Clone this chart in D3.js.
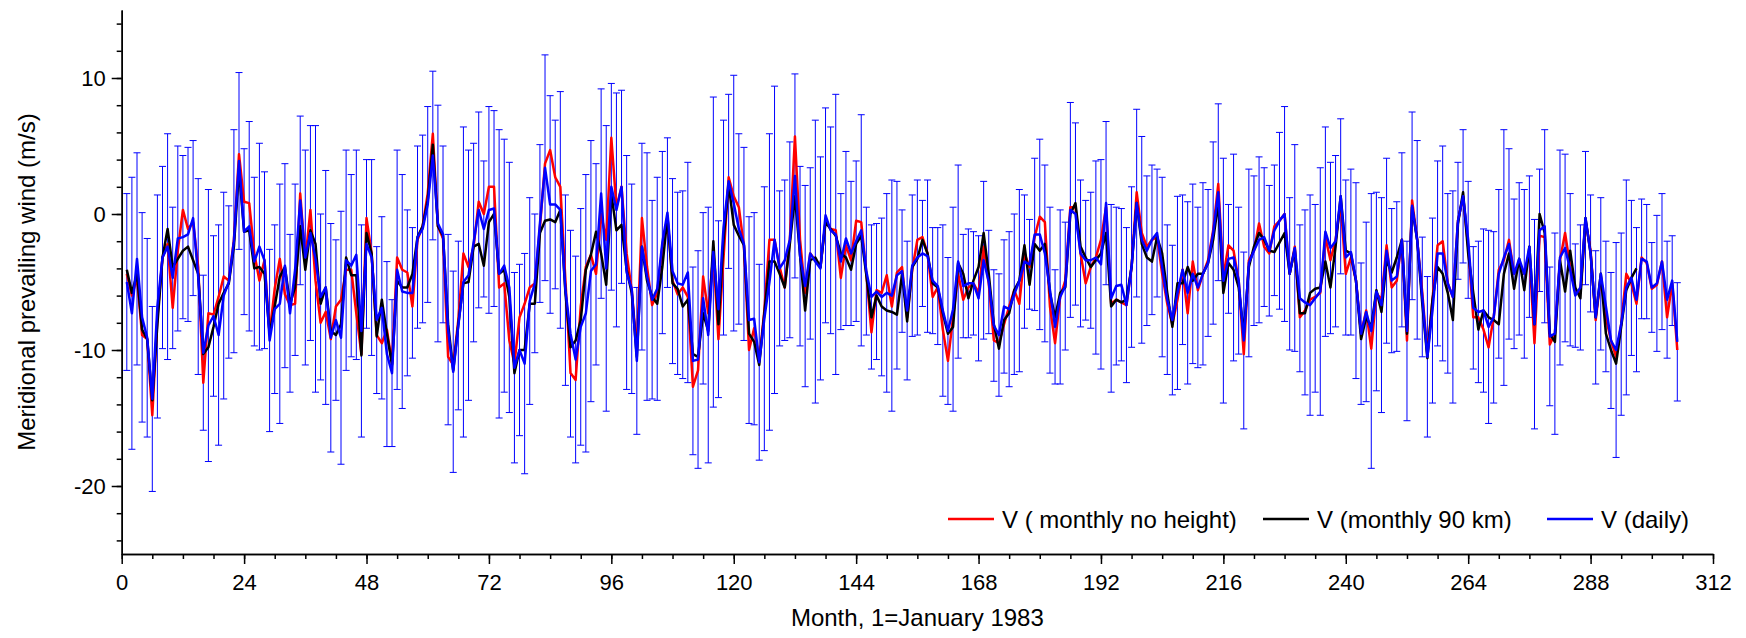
<!DOCTYPE html>
<html>
<head>
<meta charset="utf-8">
<script src="https://cdn.jsdelivr.net/npm/d3@7"></script>
<style>
  html, body { margin: 0; padding: 0; background: #fff; }
  svg { display: block; font-family: "Liberation Sans", Arial, sans-serif; }
</style>
</head>
<body>
<svg id="chart" width="1746" height="638"></svg>
<script>
// Meridional prevailing wind, monthly series starting January 1983 (month 1)

// V (daily) — monthly means of daily values, m/s
const vDaily = [
  -5.0, -7.3, -3.3, -7.6, -9.1, -13.6, -6.8, -3.2, -2.4, -4.7,
  -1.8, -1.7, -1.5, -0.3, -4.6, -10.2, -8.2, -7.5, -8.9, -6.0,
  -5.0, -2.0, 3.9, -1.3, -0.9, -3.5, -2.4, -3.4, -9.3, -7.0,
  -6.6, -3.8, -7.3, -4.1, 1.0, -3.2, -1.4, -3.3, -6.1, -5.4,
  -9.1, -7.8, -9.1, -3.4, -3.8, -3.0, -8.6, -2.2, -3.2, -7.8,
  -6.9, -10.3, -11.7, -4.1, -5.7, -5.8, -5.8, -1.7, -1.1, 0.7,
  4.3, -0.7, -1.5, -8.5, -11.6, -8.2, -5.0, -4.5, -2.1, 0.3,
  -1.1, 0.3, 0.4, -4.4, -3.8, -5.4, -11.3, -10.0, -11.0, -6.4,
  -5.1, -0.7, 3.4, 0.7, 0.7, 0.3, -5.6, -8.8, -10.7, -8.3,
  -7.3, -4.2, -3.7, 1.5, -4.0, 2.0, 0.3, 2.0, -4.3, -5.5,
  -10.8, -2.4, -4.6, -6.3, -5.5, -2.1, 0.1, -4.2, -5.1, -5.2,
  -4.3, -10.8, -10.7, -6.2, -8.9, -2.8, -7.0, -1.0, 2.4, 0.8,
  -1.1, -2.2, -7.8, -7.7, -10.9, -7.7, -5.0, -1.9, -4.0, -3.4,
  -1.9, 2.8, -3.1, -5.3, -2.9, -3.5, -4.0, -0.1, -1.2, -1.5,
  -3.5, -1.8, -2.9, -2.0, -1.2, -4.2, -6.1, -5.7, -6.1, -5.8,
  -6.0, -4.5, -4.2, -7.1, -3.8, -3.2, -2.9, -3.1, -4.9, -5.3,
  -7.1, -8.6, -7.0, -3.5, -5.3, -5.1, -5.1, -6.2, -3.4, -5.0,
  -8.2, -8.9, -6.8, -7.0, -5.9, -4.9, -3.5, -3.7, -1.5, -1.5,
  -2.9, -5.6, -8.3, -6.1, -5.3, 0.3, 0.0, -2.9, -3.4, -3.4,
  -3.2, -3.7, 0.8, -6.2, -5.3, -5.2, -6.7, -3.9, 0.8, -1.9,
  -2.7, -1.9, -1.4, -3.9, -6.3, -7.8, -5.8, -4.1, -5.8, -4.4,
  -5.4, -4.4, -3.6, -1.4, 1.6, -4.9, -3.3, -3.2, -4.9, -9.3,
  -3.6, -2.7, -1.9, -1.7, -2.7, -1.2, -0.5, 0.0, -4.4, -2.5,
  -6.2, -6.5, -6.7, -6.2, -5.7, -1.3, -2.5, -2.0, 1.3, -3.2,
  -2.8, -4.9, -8.8, -7.2, -8.6, -5.7, -6.7, -2.7, -4.9, -4.6,
  -1.9, -8.6, 0.6, -1.9, -6.1, -10.5, -7.1, -2.9, -2.9, -5.1,
  -6.1, -0.5, 1.3, -1.9, -6.9, -7.2, -7.1, -8.3, -7.6, -4.4,
  -3.2, -2.2, -4.4, -3.3, -4.4, -2.4, -8.1, -1.2, -0.9, -9.0,
  -8.8, -3.2, -2.5, -4.1, -6.0, -5.4, -0.3, -2.9, -7.6, -4.4,
  -6.8, -9.3, -10.0, -8.1, -5.4, -4.7, -6.3, -3.3, -3.5, -5.4,
  -5.1, -3.5, -6.3, -4.9, -9.4
];

// Standard deviation of the daily values (error bar half-length), m/s
const vDailySd = [
  6.5, 10.0, 7.8, 7.7, 7.3, 6.8, 8.2, 6.7, 8.3, 5.2,
  6.8, 6.0, 6.4, 5.7, 7.2, 5.7, 10.0, 5.9, 8.1, 7.6,
  5.6, 8.2, 6.5, 6.1, 7.7, 6.2, 7.6, 6.5, 6.7, 6.2,
  8.8, 7.5, 5.8, 6.3, 6.2, 7.9, 7.9, 9.8, 6.1, 8.6,
  8.4, 5.9, 9.3, 8.1, 6.7, 7.7, 7.8, 6.2, 7.2, 5.4,
  6.7, 6.8, 5.4, 8.8, 8.6, 6.1, 4.8, 6.7, 6.9, 7.2,
  6.2, 8.7, 6.5, 7.0, 7.4, 6.2, 11.4, 9.2, 7.3, 7.2,
  5.0, 7.6, 7.2, 10.6, 9.3, 9.2, 7.0, 6.3, 8.1, 7.6,
  5.1, 5.8, 8.3, 8.0, 6.2, 8.7, 7.0, 7.6, 7.6, 8.7,
  10.2, 9.6, 7.4, 7.7, 10.5, 7.6, 8.6, 7.1, 8.6, 7.7,
  5.4, 7.6, 9.1, 7.3, 8.2, 6.7, 5.5, 6.8, 6.7, 6.9,
  8.1, 6.9, 8.0, 6.3, 9.4, 11.4, 6.5, 7.9, 6.4, 9.4,
  7.0, 7.1, 7.6, 7.8, 7.2, 9.7, 10.9, 11.3, 5.7, 5.9,
  7.2, 7.5, 6.6, 7.4, 6.3, 10.4, 8.2, 7.9, 7.6, 10.3,
  5.0, 6.4, 5.3, 5.9, 8.5, 4.7, 5.3, 5.0, 5.8, 7.3,
  8.5, 6.9, 4.5, 5.1, 5.2, 5.7, 3.9, 5.6, 3.9, 4.3,
  6.3, 5.4, 7.5, 7.1, 3.8, 4.0, 3.8, 4.6, 5.8, 3.8,
  4.1, 4.5, 4.9, 5.7, 5.9, 6.7, 4.9, 3.3, 5.6, 7.0,
  6.5, 6.1, 4.2, 6.4, 4.7, 7.9, 6.7, 5.4, 4.4, 5.0,
  7.1, 7.7, 6.0, 6.9, 5.8, 5.6, 5.7, 5.9, 6.9, 7.6,
  5.5, 5.5, 4.7, 6.6, 5.5, 5.5, 7.1, 5.5, 6.7, 6.6,
  5.9, 6.7, 5.4, 6.7, 6.5, 9.0, 4.0, 7.6, 5.4, 6.5,
  6.9, 5.5, 6.1, 5.1, 4.8, 4.8, 6.5, 7.9, 5.6, 7.6,
  5.4, 6.8, 8.1, 6.9, 9.1, 7.7, 6.3, 6.3, 5.7, 5.7,
  6.1, 7.2, 5.2, 6.6, 10.1, 7.3, 7.9, 6.8, 5.3, 5.5,
  6.4, 6.6, 6.9, 7.3, 4.4, 5.9, 6.8, 6.8, 7.9, 6.6,
  7.8, 4.3, 4.9, 4.3, 4.5, 5.2, 6.0, 7.1, 6.3, 6.2,
  9.4, 7.0, 5.5, 5.6, 6.2, 5.2, 7.7, 4.5, 7.1, 5.1,
  7.4, 7.9, 6.9, 5.6, 3.8, 4.6, 4.9, 4.3, 4.9, 5.6,
  4.8, 5.0, 7.9, 6.7, 7.9, 5.7, 5.3, 4.4, 4.2, 3.3,
  5.0, 5.0, 4.3, 3.3, 4.35
];

// V (monthly, no height assignment), m/s
const vMonthlyNoHeight = [
  -4.4, -6.0, -4.7, -8.9, -9.2, -14.8, -7.6, -3.2, -2.2, -6.9,
  -2.7, 0.3, -1.1, -0.6, -3.9, -12.4, -7.3, -7.4, -6.1, -4.6,
  -4.9, -1.9, 4.4, 0.9, 0.8, -2.9, -4.9, -3.4, -8.8, -5.5,
  -3.3, -5.9, -6.7, -6.6, 1.5, -3.4, 0.3, -4.9, -8.0, -7.2,
  -9.2, -6.8, -6.3, -4.1, -4.1, -7.3, -10.3, -0.3, -2.9, -8.9,
  -9.5, -8.5, -11.0, -3.2, -4.1, -4.3, -6.8, -1.9, -0.9, 1.5,
  5.9, -0.9, -1.8, -10.5, -11.1, -7.8, -2.9, -3.9, -2.4, 0.9,
  0.0, 2.0, 2.0, -5.4, -5.1, -9.3, -11.0, -7.6, -6.6, -5.4,
  -5.1, -1.0, 3.7, 4.7, 2.7, 2.0, -4.9, -11.7, -12.2, -6.8,
  -3.9, -3.0, -4.4, 0.0, -1.9, 5.6, 0.5, 2.0, -2.9, -5.6,
  -10.0, -0.3, -3.9, -6.7, -5.8, -2.4, -0.2, -4.9, -5.9, -5.4,
  -6.1, -12.7, -11.5, -4.6, -7.3, -2.9, -9.2, -3.2, 2.7, 1.3,
  0.5, -2.4, -10.0, -8.4, -10.8, -7.1, -1.9, -1.9, -3.9, -5.4,
  -1.9, 5.7, -1.9, -5.8, -2.9, -3.4, -3.9, -0.5, -1.1, -1.2,
  -4.7, -2.3, -3.4, -0.5, -0.6, -4.4, -8.7, -5.6, -5.8, -4.5,
  -6.8, -4.3, -3.9, -7.6, -4.1, -1.9, -1.7, -2.9, -6.1, -5.4,
  -8.5, -10.8, -7.6, -4.4, -6.3, -5.4, -5.1, -5.8, -2.4, -5.1,
  -9.3, -9.5, -8.1, -6.8, -5.6, -6.6, -2.9, -3.9, -1.7, -0.2,
  -0.6, -6.8, -9.5, -6.1, -4.9, 0.5, 0.5, -2.9, -5.1, -3.9,
  -3.2, -1.9, 0.5, -6.6, -6.3, -6.5, -6.7, -3.9, 1.6, -1.4,
  -2.4, -1.9, -1.7, -4.4, -6.6, -8.1, -6.3, -4.1, -7.3, -3.5,
  -5.6, -4.4, -3.4, -1.2, 2.2, -4.6, -2.3, -2.7, -4.9, -10.3,
  -3.4, -2.7, -0.7, -2.4, -2.9, -0.9, -0.5, 0.0, -4.4, -2.4,
  -7.6, -7.1, -6.3, -6.1, -5.8, -1.7, -3.4, -1.9, 0.8, -4.4,
  -3.2, -4.9, -8.8, -7.1, -9.9, -5.8, -6.3, -2.3, -5.4, -4.9,
  -1.9, -9.3, 1.0, -1.9, -5.8, -10.3, -6.3, -2.3, -2.0, -5.1,
  -6.1, -0.5, 1.3, -2.4, -7.6, -7.6, -8.5, -9.8, -7.6, -4.1,
  -3.4, -1.9, -4.4, -3.6, -4.4, -2.9, -9.5, -1.6, -1.7, -9.6,
  -8.8, -3.4, -1.4, -3.9, -5.7, -5.8, -0.5, -2.7, -7.8, -4.6,
  -7.6, -9.3, -10.5, -8.1, -4.4, -5.1, -6.6, -3.2, -3.6, -5.5,
  -5.2, -3.5, -7.6, -5.1, -10.0
];

// V (monthly, 90 km), m/s — ends earlier than the other two series
const vMonthly90km = [
  -4.1, -5.8, -4.4, -8.5, -9.2, -13.7, -8.1, -3.2, -1.1, -3.9,
  -3.3, -2.7, -2.4, -3.4, -4.4, -10.3, -9.8, -8.3, -6.6, -5.8,
  -5.1, -2.4, 3.3, -1.3, -1.2, -4.0, -3.9, -4.4, -8.8, -6.8,
  -4.6, -3.9, -6.6, -5.4, -0.9, -4.1, -1.2, -2.2, -6.6, -5.4,
  -8.6, -8.9, -8.1, -3.2, -4.5, -4.5, -10.4, -1.4, -2.9, -9.0,
  -6.3, -8.8, -11.1, -4.9, -5.4, -5.4, -4.4, -1.7, -0.9, 1.0,
  5.1, -0.9, -1.6, -8.1, -11.5, -8.1, -5.1, -5.0, -2.4, -2.2,
  -3.8, -0.6, 0.0, -4.4, -4.1, -6.1, -11.7, -10.0, -10.0, -6.6,
  -6.6, -1.4, -0.5, -0.4, -0.6, 0.3, -5.8, -9.8, -9.3, -7.8,
  -4.1, -3.0, -1.3, -2.9, -5.2, 1.5, -1.2, -0.8, -4.1, -5.8,
  -10.5, -2.4, -4.9, -6.1, -6.6, -3.9, -0.2, -5.1, -5.5, -6.8,
  -6.3, -10.3, -10.5, -7.3, -8.6, -2.0, -8.1, -1.9, 2.2, -0.8,
  -1.6, -2.3, -8.8, -9.4, -11.1, -7.3, -3.5, -3.5, -4.4, -5.4,
  -2.2, 1.3, -3.0, -7.1, -3.4, -3.2, -3.9, -0.6, -1.1, -1.6,
  -2.9, -3.2, -4.1, -2.2, -1.6, -4.5, -7.6, -6.0, -6.8, -7.1,
  -7.2, -7.4, -4.4, -7.9, -3.9, -3.3, -1.9, -2.9, -5.1, -5.4,
  -7.3, -8.8, -8.3, -3.6, -4.4, -6.2, -4.9, -3.9, -1.4, -4.4,
  -8.1, -9.9, -7.8, -7.3, -5.6, -4.9, -2.3, -5.2, -2.2, -2.7,
  -2.2, -5.8, -7.6, -5.8, -5.4, 0.0, 0.8, -2.4, -3.2, -3.9,
  -3.4, -2.9, -1.4, -6.8, -6.3, -6.5, -6.3, -3.9, 0.8, -2.2,
  -3.2, -3.5, -1.7, -2.9, -5.8, -8.3, -5.1, -5.1, -3.9, -4.9,
  -4.4, -4.4, -3.6, -1.9, 0.8, -5.8, -3.6, -4.1, -5.4, -8.8,
  -3.9, -2.4, -1.4, -1.9, -2.7, -2.8, -2.1, -1.4, -4.4, -2.6,
  -7.3, -7.3, -5.8, -5.5, -5.4, -3.5, -5.4, -2.4, 1.3, -2.7,
  -2.9, -4.9, -9.2, -7.6, -8.3, -5.6, -7.2, -3.4, -4.3, -3.2,
  -1.9, -8.8, 0.5, -1.9, -6.6, -10.6, -6.3, -3.9, -4.4, -5.8,
  -7.8, -0.7, 1.6, -2.9, -5.8, -8.5, -7.1, -7.6, -7.8, -8.1,
  -4.4, -2.9, -5.5, -3.3, -5.6, -2.4, -8.1, 0.0, -1.4, -8.8,
  -9.4, -3.4, -5.7, -2.7, -5.4, -6.2, -0.3, -2.9, -7.6, -4.4,
  -8.8, -10.0, -11.0, -8.3, -5.6, -4.7, -4.0
];

// Axis ticks and labels
const xMajorTicks = [0, 24, 48, 72, 96, 120, 144, 168, 192, 216, 240, 264, 288, 312];
const xMinorTicks = d3.range(0, 313, 6);
const yMajorTicks = [-20, -10, 0, 10];
const yMinorTicks = d3.range(-24, 15, 2);
const xTitle = "Month, 1=January 1983";
const yTitle = "Meridional prevailing wind (m/s)";

const seriesNames = ["V ( monthly no height)", "V (monthly 90 km)", "V (daily)"];
const seriesColors = ["#ff0000", "#000000", "#0000ff"];

// ---------------------------------------------------------------
const svg = d3.select("#chart");
const plot = { left: 121.7, right: 1713, top: 10, bottom: 554 };

const x = d3.scaleLinear().domain([0, 312]).range([plot.left, plot.right]);
const y = d3.scaleLinear().domain([-25, 15]).range([plot.bottom, plot.top]);

const toPoints = arr => arr.map((v, i) => ({ m: i + 1, v }));
const daily = vDaily.map((v, i) => ({ m: i + 1, v, sd: vDailySd[i] }));

// Error bars (± one standard deviation of the daily values)
const capHalf = 3.5;
const eb = svg.append("g").attr("stroke", "#0000ff").attr("stroke-width", 1).attr("fill", "none");
daily.forEach(d => {
  const cx = x(d.m), y1 = y(d.v + d.sd), y2 = y(d.v - d.sd);
  eb.append("line").attr("x1", cx).attr("x2", cx).attr("y1", y1).attr("y2", y2);
  eb.append("line").attr("x1", cx - capHalf).attr("x2", cx + capHalf).attr("y1", y1).attr("y2", y1);
  eb.append("line").attr("x1", cx - capHalf).attr("x2", cx + capHalf).attr("y1", y2).attr("y2", y2);
});

// Series lines
const line = d3.line().x(d => x(d.m)).y(d => y(d.v));
[vMonthlyNoHeight, vMonthly90km, vDaily].forEach((arr, k) => {
  svg.append("path")
    .datum(toPoints(arr))
    .attr("fill", "none")
    .attr("stroke", seriesColors[k])
    .attr("stroke-width", 2.5)
    .attr("stroke-linejoin", "round")
    .attr("d", line);
});

// Axes
const tickFont = "22px";
const intLabel = d => String(d);   // plain hyphen-minus for negative labels
const gx = svg.append("g").attr("transform", `translate(0,${plot.bottom})`);
gx.call(d3.axisBottom(x).tickValues(xMinorTicks).tickSize(5).tickSizeOuter(0).tickFormat(""));
const gxMaj = svg.append("g").attr("transform", `translate(0,${plot.bottom})`);
gxMaj.call(d3.axisBottom(x).tickValues(xMajorTicks).tickSize(10).tickSizeOuter(0).tickPadding(10).tickFormat(intLabel));

const gy = svg.append("g").attr("transform", `translate(${plot.left},0)`);
gy.call(d3.axisLeft(y).tickValues(yMinorTicks).tickSize(5).tickSizeOuter(0).tickFormat(""));
const gyMaj = svg.append("g").attr("transform", `translate(${plot.left},0)`);
gyMaj.call(d3.axisLeft(y).tickValues(yMajorTicks).tickSize(10).tickSizeOuter(0).tickPadding(6).tickFormat(intLabel));

svg.selectAll(".domain").attr("stroke", "#000").attr("stroke-width", 1.5);
svg.selectAll(".tick line").attr("stroke", "#000").attr("stroke-width", 1.5);
svg.selectAll(".tick text").attr("font-size", tickFont).attr("fill", "#000")
   .attr("font-family", "'Liberation Sans', Arial, sans-serif");

// Axis titles
svg.append("text")
  .attr("x", (plot.left + plot.right) / 2).attr("y", 626)
  .attr("text-anchor", "middle").attr("font-size", "24px").attr("fill", "#000")
  .text(xTitle);
svg.append("text")
  .attr("transform", `translate(35,${(plot.top + plot.bottom) / 2}) rotate(-90)`)
  .attr("text-anchor", "middle").attr("font-size", "24px").attr("fill", "#000")
  .text(yTitle);

// Legend
const legendX = [948, 1263, 1547];
const legendY = 519;
const lg = svg.append("g");
seriesNames.forEach((name, k) => {
  lg.append("line")
    .attr("x1", legendX[k]).attr("x2", legendX[k] + 46)
    .attr("y1", legendY).attr("y2", legendY)
    .attr("stroke", seriesColors[k]).attr("stroke-width", 2.5);
  lg.append("text")
    .attr("x", legendX[k] + 54).attr("y", legendY + 8.5)
    .attr("font-size", "24px").attr("fill", "#000")
    .text(name);
});
</script>
</body>
</html>
